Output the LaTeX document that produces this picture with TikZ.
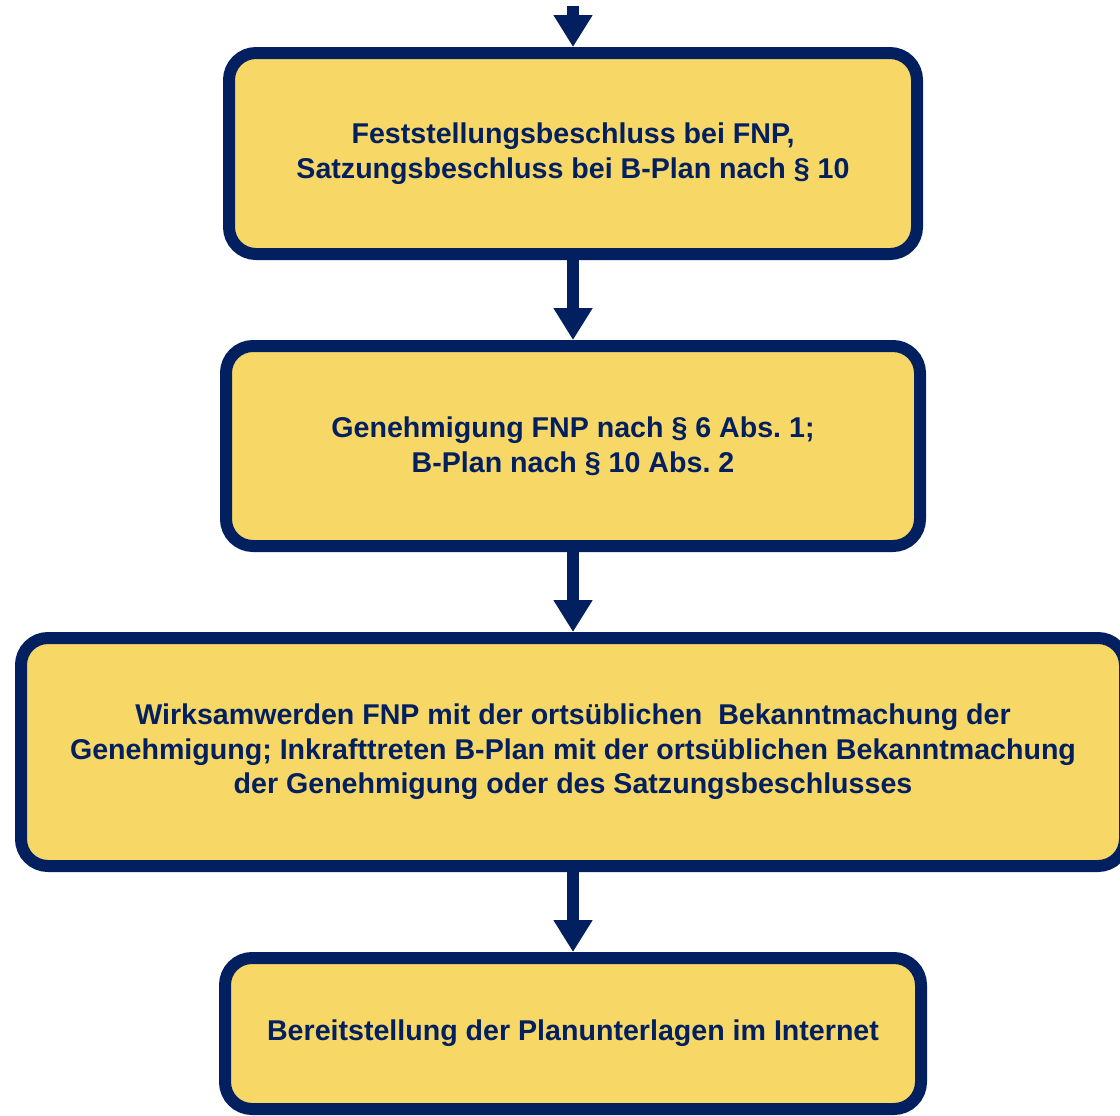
\documentclass[tikz,border=0pt]{standalone}
\usepackage{fontspec}
\setmainfont{Liberation Sans}
\usetikzlibrary{arrows.meta}

\definecolor{planblue}{RGB}{2,32,96}
\definecolor{planyellow}{RGB}{247,215,102}

\begin{document}
\begin{tikzpicture}[%
        x = 0.5pt, y = -0.5pt,
        > = {Triangle[width = 18.5pt, length = 16pt]},
        stepbox/.style = {draw = planblue, fill = planyellow,
            line width = 6pt, rounded corners = 13.5pt,
            inner sep = 0pt, align = center, text = planblue,
            font = \bfseries\fontsize{14.3}{17.3}\selectfont},
        flow/.style = {->, draw = planblue, line width = 6pt}
    ]

        % Fix the page to the size of the reference.
        \useasboundingbox (0, 0) rectangle (1120, 1115);

        % The four steps of the procedure.
        \node[stepbox, minimum width = 344pt, minimum height = 100.5pt]
            (feststellung) at (573, 153.5)
            {Feststellungsbeschluss bei FNP,\\
             Satzungsbeschluss bei B-Plan nach \S~10};
        \node[stepbox, minimum width = 347pt, minimum height = 100pt]
            (genehmigung) at (573, 446)
            {Genehmigung FNP nach \S~6 Abs.~1;\\
             B-Plan nach \S~10 Abs.~2};
        \node[stepbox, minimum width = 552pt, minimum height = 114pt]
            (wirksam) at (573, 752)
            {Wirksamwerden FNP mit der ortsüblichen\ \ Bekanntmachung der\\
             Genehmigung; Inkrafttreten B-Plan mit der ortsüblichen Bekanntmachung\\
             der Genehmigung oder des Satzungsbeschlusses};
        \node[stepbox, minimum width = 348pt, minimum height = 75.5pt]
            (internet) at (573, 1033.5)
            {Bereitstellung der Planunterlagen im Internet};

        % Arrows from one step to the next.
        \coordinate (start) at (573, 6);
        \draw[flow] (start) -- (feststellung.north);
        \draw[flow] (feststellung.south) -- (genehmigung.north);
        \draw[flow] (genehmigung.south) -- (wirksam.north);
        \draw[flow] (wirksam.south) -- (internet.north);
    \end{tikzpicture}
\end{document}
